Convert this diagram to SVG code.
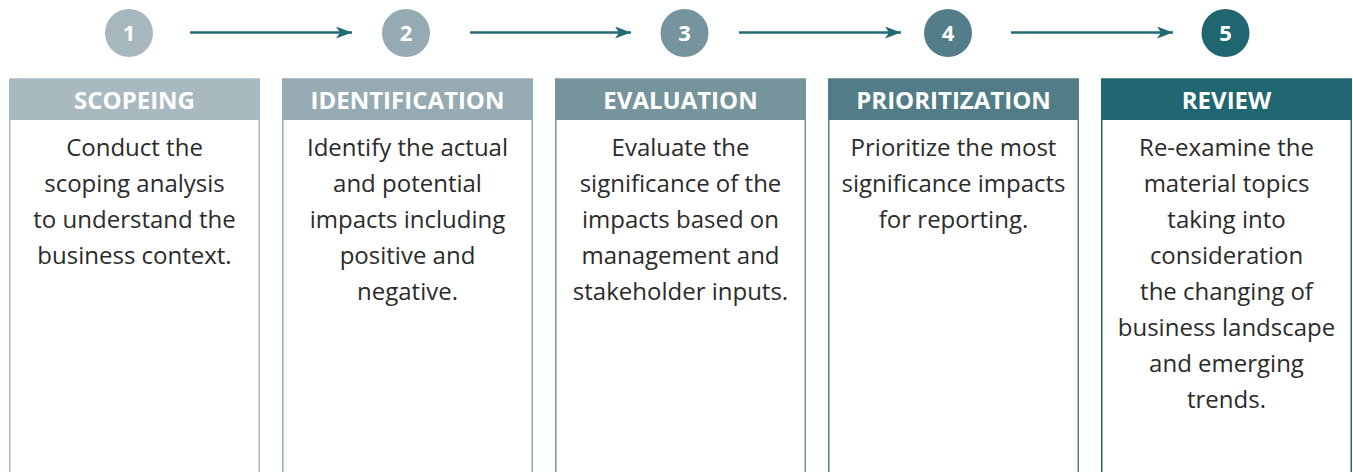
<svg xmlns="http://www.w3.org/2000/svg" width="1353" height="472" viewBox="0 0 1353 472">
  <defs>
    <marker id="arrowhead" viewBox="0 0 16 12" refX="16" refY="6" markerWidth="16" markerHeight="12" markerUnits="userSpaceOnUse" orient="auto">
      <path d="M0,0 L16,6 L0,12 L4,6 Z" fill="#236a74"/>
    </marker>
    <style>
      .num { font-family: "Open Sans", "Liberation Sans", sans-serif; font-weight: 700; font-size: 22px; fill: #ffffff; text-anchor: middle; }
      .head { font-family: "Open Sans", "Liberation Sans", sans-serif; font-weight: 700; font-size: 24px; fill: #ffffff; text-anchor: middle; }
      .body { font-family: "Open Sans", "Liberation Sans", sans-serif; font-size: 24px; fill: #2b2b2b; text-anchor: middle; }
      .frame { fill: #ffffff; stroke-width: 1.5; }
      .link { stroke: #236a74; stroke-width: 2.5; fill: none; marker-end: url(#arrowhead); }
    </style>
  </defs>
  <rect width="1353" height="472" fill="#ffffff"/>

  <g id="connectors">
    <line class="link" x1="190" y1="32.5" x2="352" y2="32.5"/>
    <line class="link" x1="470" y1="32.5" x2="631" y2="32.5"/>
    <line class="link" x1="739" y1="32.5" x2="901" y2="32.5"/>
    <line class="link" x1="1011" y1="32.5" x2="1173" y2="32.5"/>
  </g>

  <g id="step1">
    <circle cx="129" cy="33" r="24" fill="#a6b7be"/>
    <text class="num" x="129" y="41">1</text>
    <rect class="frame" x="9.75" y="79" width="249.5" height="400" stroke="#a8b9c0"/>
    <rect x="9" y="79" width="251" height="41" fill="#a8b9c0"/>
    <text class="head" x="134.5" y="108.5">SCOPEING</text>
    <text class="body" x="134.5" y="156">Conduct the</text>
    <text class="body" x="134.5" y="192">scoping analysis</text>
    <text class="body" x="134.5" y="228">to understand the</text>
    <text class="body" x="134.5" y="264">business context.</text>
  </g>

  <g id="step2">
    <circle cx="406" cy="33" r="24" fill="#95aab3"/>
    <text class="num" x="406" y="41">2</text>
    <rect class="frame" x="282.75" y="79" width="249.5" height="400" stroke="#95aab3"/>
    <rect x="282" y="79" width="251" height="41" fill="#95aab3"/>
    <text class="head" x="407.5" y="108.5">IDENTIFICATION</text>
    <text class="body" x="407.5" y="156">Identify the actual</text>
    <text class="body" x="407.5" y="192">and potential</text>
    <text class="body" x="407.5" y="228">impacts including</text>
    <text class="body" x="407.5" y="264">positive and</text>
    <text class="body" x="407.5" y="300">negative.</text>
  </g>

  <g id="step3">
    <circle cx="684.5" cy="33" r="24" fill="#76949d"/>
    <text class="num" x="684.5" y="41">3</text>
    <rect class="frame" x="555.75" y="79" width="249.5" height="400" stroke="#76949c"/>
    <rect x="555" y="79" width="251" height="41" fill="#76949c"/>
    <text class="head" x="680.5" y="108.5">EVALUATION</text>
    <text class="body" x="680.5" y="156">Evaluate the</text>
    <text class="body" x="680.5" y="192">significance of the</text>
    <text class="body" x="680.5" y="228">impacts based on</text>
    <text class="body" x="680.5" y="264">management and</text>
    <text class="body" x="680.5" y="300">stakeholder inputs.</text>
  </g>

  <g id="step4">
    <circle cx="948" cy="33" r="24" fill="#537d88"/>
    <text class="num" x="948" y="41">4</text>
    <rect class="frame" x="828.75" y="79" width="249.5" height="400" stroke="#527d88"/>
    <rect x="828" y="79" width="251" height="41" fill="#527d88"/>
    <text class="head" x="953.5" y="108.5">PRIORITIZATION</text>
    <text class="body" x="953.5" y="156">Prioritize the most</text>
    <text class="body" x="953.5" y="192">significance impacts</text>
    <text class="body" x="953.5" y="228">for reporting.</text>
  </g>

  <g id="step5">
    <circle cx="1225.5" cy="33" r="24" fill="#1f6670"/>
    <text class="num" x="1225.5" y="41">5</text>
    <rect class="frame" x="1101.75" y="79" width="249.5" height="400" stroke="#206771"/>
    <rect x="1101" y="79" width="251" height="41" fill="#206771"/>
    <text class="head" x="1226.5" y="108.5">REVIEW</text>
    <text class="body" x="1226.5" y="156">Re-examine the</text>
    <text class="body" x="1226.5" y="192">material topics</text>
    <text class="body" x="1226.5" y="228">taking into</text>
    <text class="body" x="1226.5" y="264">consideration</text>
    <text class="body" x="1226.5" y="300">the changing of</text>
    <text class="body" x="1226.5" y="336">business landscape</text>
    <text class="body" x="1226.5" y="372">and emerging</text>
    <text class="body" x="1226.5" y="408">trends.</text>
  </g>
</svg>
